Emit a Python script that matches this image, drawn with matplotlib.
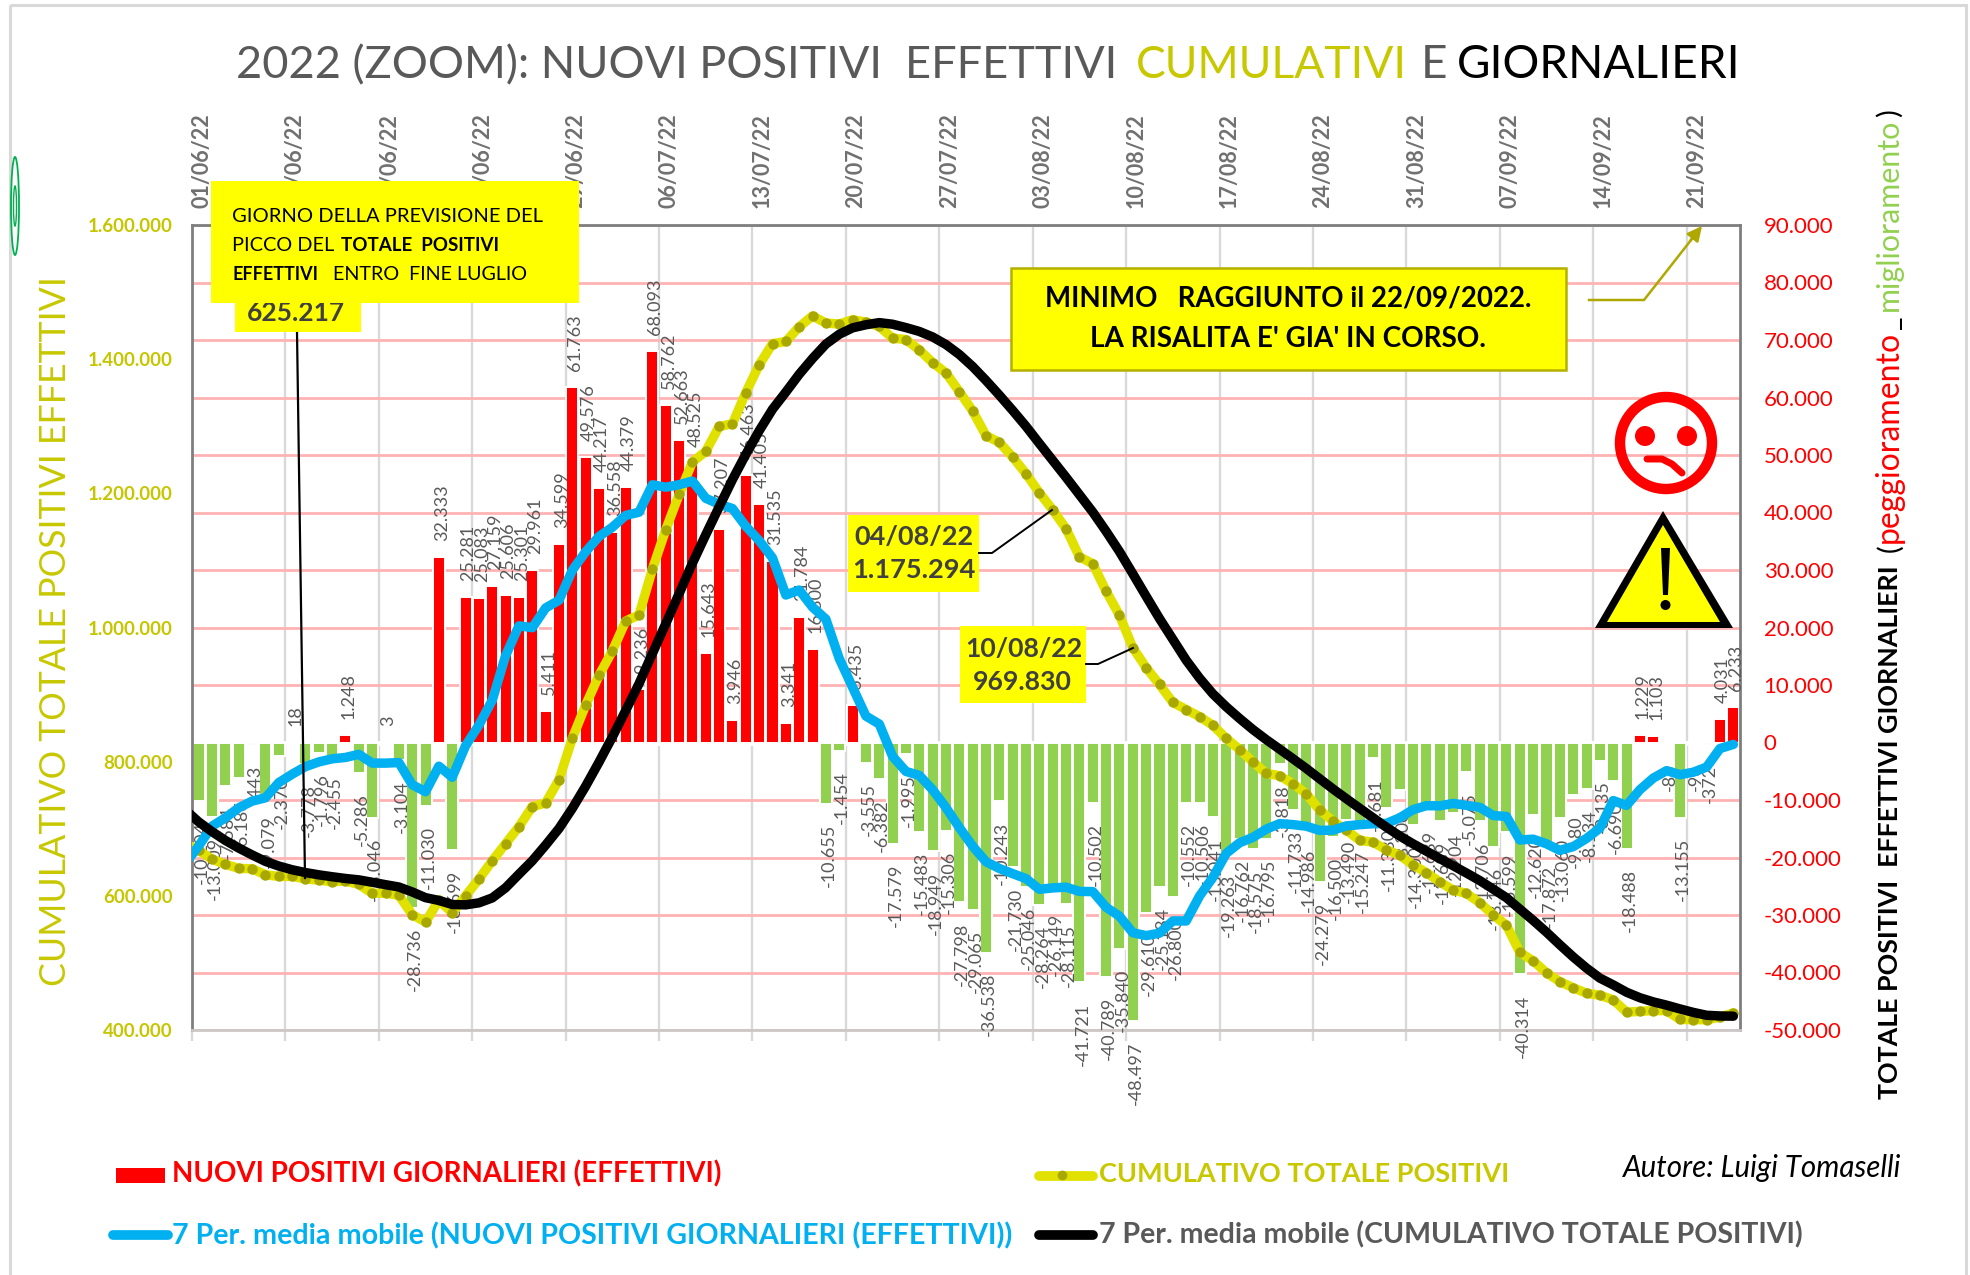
import numpy as np
import matplotlib
matplotlib.use('Agg')
import matplotlib.pyplot as plt
from matplotlib.patches import Rectangle, Circle, Ellipse, Polygon

plt.rcParams['font.family'] = ['Lato', 'DejaVu Sans']

# nuovi positivi giornalieri
daily = [-10204, -13009, -7584, -6186, -443, -9079, -2370, 18, -3778, -1796, -2455, 1248,
         -5286, -13046, 3, -3104, -28736, -11030, 32333, -18699, 25281, 25083, 27159, 25606,
         25301, 29961, 5411, 34599, 61763, 49576, 44217, 36558, 44379, 9236, 68093, 58762,
         52663, 48525, 15643, 37207, 3946, 46463, 41405, 31535, 3341, 21784, 16300, -10655,
         -1454, 6435, -3555, -6382, -17579, -1995, -15483, -18949, -15306, -27798, -29065,
         -36538, -10243, -21730, -25046, -28264, -26149, -28115, -41721, -10502, -40789,
         -35840, -48497, -29610, -25184, -26800, -10552, -10506, -13041, -19263, -16762,
         -18575, -16795, -3818, -11733, -14986, -24279, -16500, -13490, -15247, -2681, -11330,
         -8200, -14300, -11689, -13689, -12204, -5075, -13706, -18146, -15599, -40314, -12620,
         -17872, -13060, -9180, -8134, -3135, -6690, -18488, 1229, 1103, -83, -13155, -96,
         -372, 4031, 6233]

# le tre linee partono dal giorno prima (31/05), tagliato dall'asse
# cumulativo totale positivi
cumul = [677852, 667648, 654639, 647055, 640869, 640426, 631347, 628977, 628995, 625217, 623421,
         620966, 622214, 616928, 603882, 603885, 600781, 572045, 561015, 593348, 574649,
         599930, 625013, 652172, 677778, 703079, 733040, 738451, 773050, 834813, 884389,
         928606, 965164, 1009543, 1018779, 1086872, 1145634, 1198297, 1246822, 1262465,
         1299672, 1303618, 1350081, 1391486, 1423021, 1426362, 1448146, 1464446, 1453791,
         1452337, 1458772, 1455217, 1448835, 1431256, 1429261, 1413778, 1394829, 1379523,
         1351725, 1322660, 1286122, 1275879, 1254149, 1229103, 1200839, 1175294, 1147179,
         1105458, 1094956, 1054167, 1018327, 969830, 940220, 915036, 888236, 877684, 867178,
         854137, 834874, 818112, 799537, 782742, 778924, 767191, 752205, 727926, 711426,
         697936, 682689, 680008, 668678, 660478, 646178, 634489, 620800, 608596, 603521,
         589815, 571669, 556070, 515756, 503136, 485264, 472204, 463024, 454890, 451755,
         445065, 426577, 427806, 428909, 428826, 415671, 415575, 415203, 419234, 425467]

# media mobile 7 periodi dei giornalieri
daily_ma = [-21000, -18000, -14550, -13100, -11360, -10200, -9620, -6980, -5520, -4200, -3380, -2840,
            -2600, -2060, -3580, -3590, -3490, -7340, -8560, -4120, -6040, -560, 3020, 7340,
            15100, 20290, 19960, 23400, 24730, 29970, 33170, 35830, 37440, 39500, 40050, 44830,
            44400, 44840, 45460, 42470, 41450, 40690, 37600, 35120, 32100, 25650, 26520, 23540,
            21450, 14610, 9610, 4600, 3210, -2410, -5030, -5720, -8220, -11320, -14790, -18030,
            -20740, -21910, -22810, -23680, -25530, -25290, -25160, -25900, -25930, -28660,
            -30200, -33090, -33580, -33160, -31030, -31040, -26710, -23460, -19280, -17440,
            -16500, -15070, -14110, -14280, -14560, -15280, -15240, -14510, -14290, -14130,
            -14070, -13100, -11680, -10990, -11020, -10590, -10930, -11270, -12690, -12870,
            -16960, -16810, -17620, -18760, -18110, -16680, -14900, -10100, -10940, -8210,
            -6190, -4890, -5600, -5170, -4270, -1050, -330]

# media mobile 7 periodi del cumulativo
cumul_ma = [728000, 710230, 695680, 682580, 671220, 661020, 651400, 644420, 638900, 634700, 631320,
            628480, 625880, 623820, 620240, 616650, 613160, 605820, 597260, 593140, 587100,
            586540, 589560, 596900, 612000, 632290, 652250, 675650, 700380, 730350, 763520,
            799350, 836790, 876290, 916340, 961170, 1005570, 1050410, 1095870, 1138340,
            1179790, 1220480, 1258080, 1293200, 1325300, 1350950, 1377470, 1401010, 1422460,
            1437070, 1446680, 1451280, 1454490, 1452080, 1447050, 1441330, 1433110, 1421790,
            1407000, 1388970, 1368230, 1346320, 1323510, 1299830, 1274300, 1249010, 1223850,
            1197950, 1172020, 1143360, 1113160, 1080070, 1046490, 1013330, 982300, 951260,
            924550, 901090, 881810, 864370, 847870, 832800, 818690, 804410, 789850, 774570,
            759330, 744820, 730530, 716400, 702330, 689230, 677550, 666560, 655540, 644950,
            634020, 622750, 610060, 597190, 580230, 563420, 545800, 527040, 508930, 492250,
            477350, 467250, 456310, 448100, 441910, 437020, 431420, 426250, 421980, 420930,
            420600]

date_labels = ['01/06/22', '08/06/22', '15/06/22', '22/06/22', '29/06/22', '06/07/22',
               '13/07/22', '20/07/22', '27/07/22', '03/08/22', '10/08/22', '17/08/22',
               '24/08/22', '31/08/22', '07/09/22', '14/09/22', '21/09/22']
left_ticks = [400000, 600000, 800000, 1000000, 1200000, 1400000, 1600000]
right_ticks = list(range(-50000, 90001, 10000))


def dotted(v):
    return f'{v:,}'.replace(',', '.')


W, H = 1970, 1275
fig = plt.figure(figsize=(W / 100, H / 100), dpi=100)
rect = [192 / W, 1 - 1030 / H, (1740 - 192) / W, (1030 - 225) / H]
x = np.arange(len(daily)) + 0.5
x_line = np.arange(-1, len(daily)) + 0.5
week = np.arange(0, 113, 7)


def layer(z, ylim):
    a = fig.add_axes(rect, zorder=z)
    a.set_xlim(0, len(daily))
    a.set_ylim(*ylim)
    a.patch.set_visible(False)
    a.set_xticks([])
    a.set_yticks([])
    for s in a.spines.values():
        s.set_visible(False)
    return a


L_LIM = (400000, 1600000)
R_LIM = (-50000, 90000)

# barre + griglia
ax_b = layer(1, R_LIM)
ax_b.patch.set_visible(True)
ax_b.yaxis.tick_right()
ax_b.set_yticks(right_ticks, [dotted(v) for v in right_ticks], color='#FF0000', fontsize=16)
ax_b.tick_params(axis='y', length=0, pad=17)
ax_b.set_xticks(week, [''] * len(week))
ax_b.tick_params(axis='x', length=8, width=1.7, color='#D9D9D9')
ax_b.grid(axis='y', color='#FFB3B3', lw=2, zorder=0)
ax_b.grid(axis='x', color='#D9D9D9', lw=1.7, zorder=0)
ax_b.set_axisbelow(True)
for side in ['left', 'right', 'top']:
    ax_b.spines[side].set_visible(True)
    ax_b.spines[side].set_color('#7F7F7F')
    ax_b.spines[side].set_linewidth(2)
ax_b.spines['bottom'].set_visible(True)
ax_b.spines['bottom'].set_color('#CCC8C8')
ax_b.spines['bottom'].set_linewidth(2)
ax_b.axhline(0, color='white', lw=3.5, zorder=1)
ax_b.bar(x, daily, width=0.9, color=['#FF0000' if v > 0 else '#92D050' for v in daily],
         edgecolor='white', linewidth=1.4, zorder=2)
for xi, v in zip(x, daily):
    ax_b.annotate(dotted(v), (xi, v), xytext=(3, 16 if v > 0 else -20), textcoords='offset pixels',
                  rotation=90, ha='center', va='bottom' if v > 0 else 'top',
                  fontsize=13, color='#595959', zorder=3)

ax_c = layer(2, L_LIM)
ax_c.set_yticks(left_ticks, [dotted(v) for v in left_ticks], color='#C6C600',
                fontsize=13.5, fontweight='bold')
ax_c.tick_params(axis='y', length=0, pad=14)
ax_c.xaxis.tick_top()
ax_c.set_xticks(week + 0.75, date_labels, rotation=90, fontsize=15.5, fontweight='bold', color='#707070')
ax_c.tick_params(axis='x', length=0, pad=12)
ax_c.plot(x_line, cumul, color='#E1E100', lw=6.8, solid_joinstyle='round', solid_capstyle='round',
          marker='o', ms=7.5, mfc='#A8A800', mec='none')

ax_m = layer(3, R_LIM)
ax_m.plot(x_line, daily_ma, color='#00B0F0', lw=6.8, solid_joinstyle='round', solid_capstyle='round')

ax_k = layer(4, L_LIM)
ax_k.plot(x_line, cumul_ma, color='black', lw=6.8, solid_joinstyle='round', solid_capstyle='round')

# tutto il resto in coordinate pixel
over = fig.add_axes([0, 0, 1, 1], zorder=5)
over.set_xlim(0, W)
over.set_ylim(H, 0)
over.axis('off')
rend = fig.canvas.get_renderer()


def put(px, py, s, w=None, size=16, **kw):
    kw.setdefault('va', 'baseline')
    kw.setdefault('ha', 'left')
    t = over.text(px, py, s, fontsize=size, **kw)
    if w:
        bb = t.get_window_extent(rend)
        t.set_fontsize(size * w / max(bb.width, bb.height))
    return t


over.add_patch(Rectangle((10, 5), 1956, 1290, fill=False, ec='#D9D9D9', lw=2.2))
over.add_patch(Ellipse((15, 206), 8, 98, fill=False, ec='#00B050', lw=1.3))
over.add_patch(Ellipse((15, 206), 3, 40, fill=False, ec='#00B050', lw=1))

# titolo
put(236, 78, '2022 (ZOOM): NUOVI POSITIVI  EFFETTIVI', w=882, color='#595959')
put(1136, 78, 'CUMULATIVI', w=271, color='#C8C800')
put(1421, 78, 'E', color='#595959', size=33)
put(1457, 78, 'GIORNALIERI', w=282, color='black')

# titoli assi
put(66, 986, 'CUMULATIVO TOTALE POSITIVI EFFETTIVI', w=710, color='#C8C800', rotation=90, rotation_mode='anchor')
put(1898, 1099, 'TOTALE POSITIVI  EFFETTIVI GIORNALIERI', w=535, color='black', fontweight='bold',
    rotation=90, rotation_mode='anchor')
put(1898, 552, '(', color='black', rotation=90, rotation_mode='anchor', size=21)
put(1898, 543, 'peggioramento', w=213, color='#FF0000', rotation=90, rotation_mode='anchor')
put(1898, 329, '_', color='black', rotation=90, rotation_mode='anchor', size=21)
put(1898, 311, 'miglioramento', w=193, color='#92D050', rotation=90, rotation_mode='anchor')
put(1898, 117, ')', color='black', rotation=90, rotation_mode='anchor', size=21)

# riquadro previsione
over.plot([297, 305], [332, 878], color='black', lw=1.6, zorder=3)
over.add_patch(Rectangle((235, 290), 126, 42, fc='#FFFF00', ec='none', zorder=4))
put(247, 321, '625.217', w=98, color='#404040', fontweight='bold', zorder=5)
over.add_patch(Rectangle((211, 181), 368, 122, fc='#FFFF00', ec='none', zorder=6))
put(232, 222, 'GIORNO DELLA PREVISIONE DEL', w=310, color='black', zorder=7)
put(232, 251, 'PICCO DEL', w=102, color='black', zorder=7)
put(341, 251, 'TOTALE  POSITIVI', w=159, color='black', fontweight='bold', zorder=7)
put(232, 280, 'EFFETTIVI', w=86, color='black', fontweight='bold', zorder=7)
put(333, 280, 'ENTRO  FINE LUGLIO', w=195, color='black', zorder=7)

# riquadro minimo
over.add_patch(Rectangle((1011, 268), 555, 102, fc='#FFFF00', ec='#B5B000', lw=1.8))
put(1045, 307, 'MINIMO   RAGGIUNTO il 22/09/2022.', w=486, color='black', fontweight='bold')
put(1090, 347, "LA RISALITA E' GIA' IN CORSO.", w=396, color='black', fontweight='bold')
over.plot([1589, 1644, 1695], [300, 300, 235], color='#AFA800', lw=1.8)
over.annotate('', xy=(1702, 226), xytext=(1690, 241),
              arrowprops=dict(arrowstyle='-|>', color='#AFA800', lw=1.8, mutation_scale=22, shrinkA=0, shrinkB=0))

# etichette date
over.add_patch(Rectangle((848, 515), 131, 77, fc='#FFFF00', ec='none'))
put(854, 545, '04/08/22', w=119, color='#404040', fontweight='bold')
put(852, 578, '1.175.294', w=124, color='#404040', fontweight='bold')
over.plot([979, 992, 1052], [553, 553, 510], color='black', lw=1.4)
over.add_patch(Rectangle((960, 626), 126, 77, fc='#FFFF00', ec='none'))
put(965, 657, '10/08/22', w=117, color='#404040', fontweight='bold')
put(973, 690, '969.830', w=99, color='#404040', fontweight='bold')
over.plot([1086, 1098, 1133], [664, 664, 648], color='black', lw=1.4)

# faccina
over.add_patch(Circle((1666, 443), 46, fill=False, ec='#FF0000', lw=7.5))
over.add_patch(Circle((1645, 436), 10, fc='#FF0000', ec='none'))
over.add_patch(Circle((1687, 436), 10, fc='#FF0000', ec='none'))
over.plot([1647, 1662, 1672, 1682], [459, 459, 464, 473], color='#FF0000', lw=5, solid_capstyle='round')

# triangolo
over.add_patch(Polygon([(1663, 511), (1595, 628), (1733, 628)], fc='black', ec='none'))
over.add_patch(Polygon([(1663, 525), (1607, 622), (1720, 622)], fc='#FFFF00', ec='none'))
over.add_patch(Polygon([(1661, 548), (1670, 548), (1668, 595), (1663, 595)], fc='black', ec='none'))
over.add_patch(Circle((1665.5, 605), 5, fc='black', ec='none'))

# legenda
over.add_patch(Rectangle((116, 1168), 49, 15, fc='#FF0000', ec='none'))
put(172, 1182, 'NUOVI POSITIVI GIORNALIERI (EFFETTIVI)', w=548, color='#FF0000', fontweight='bold')
over.plot([113, 168], [1235, 1235], color='#00B0F0', lw=7, solid_capstyle='round')
put(172, 1244, '7 Per. media mobile (NUOVI POSITIVI GIORNALIERI (EFFETTIVI))', w=843, color='#00B0F0', fontweight='bold')
over.plot([1039, 1093], [1176, 1176], color='#E1E100', lw=7, solid_capstyle='round')
over.plot([1062], [1175], 'o', color='#A8A800', ms=6)
put(1099, 1182, 'CUMULATIVO TOTALE POSITIVI', w=412, color='#C8C800', fontweight='bold')
over.plot([1039, 1093], [1235, 1235], color='black', lw=7, solid_capstyle='round')
put(1099, 1243, '7 Per. media mobile (CUMULATIVO TOTALE POSITIVI)', w=707, color='#595959', fontweight='bold')
put(1623, 1177, 'Autore: Luigi Tomaselli', w=279, color='black', style='italic')

fig.savefig('out.png', dpi=100)
